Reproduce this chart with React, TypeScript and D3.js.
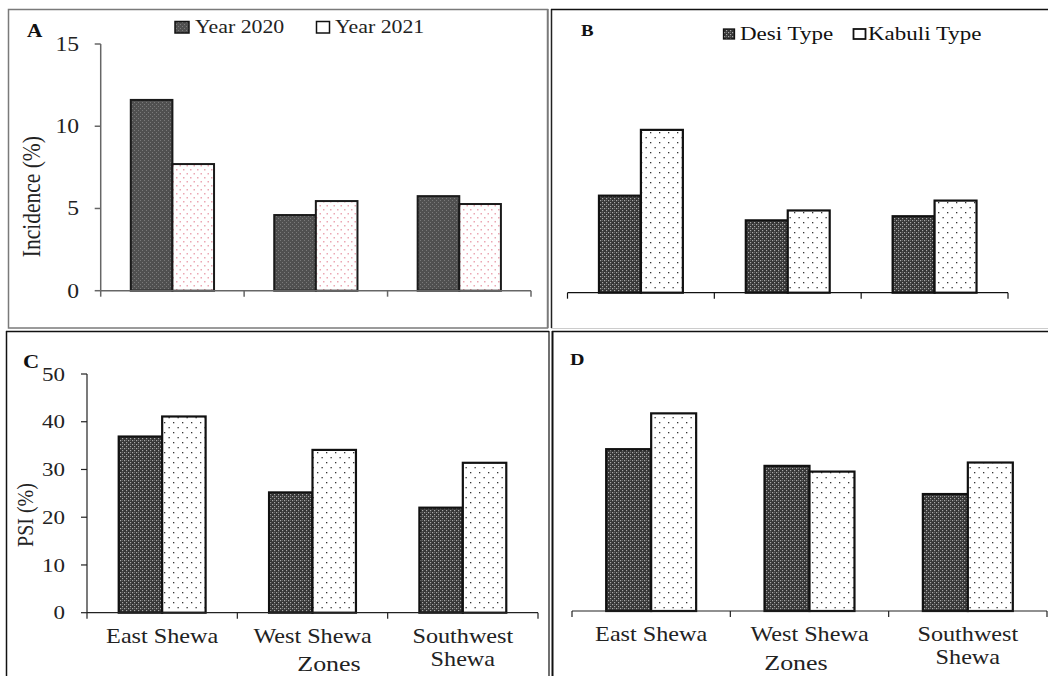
import React from "react";
import * as d3 from "d3";

const categories = ["East Shewa", "West Shewa", "Southwest Shewa"];
const categoryLines = [["East Shewa"], ["West Shewa"], ["Southwest", "Shewa"]];

const yearSeries = ["Year 2020", "Year 2021"];
const typeSeries = ["Desi Type", "Kabuli Type"];

// Panel A: incidence by year
const incidence2020 = [11.6, 4.6, 5.75];
const incidence2021 = [7.7, 5.45, 5.27];
// Panel B: incidence by type
const incidenceDesi = [5.9, 4.4, 4.65];
const incidenceKabuli = [9.9, 5.0, 5.6];
// Panel C: PSI by year
const psi2020 = [36.9, 25.2, 22.0];
const psi2021 = [41.1, 34.1, 31.4];
// Panel D: PSI by type
const psiDesi = [33.9, 30.4, 24.5];
const psiKabuli = [41.4, 29.2, 31.1];

const yTicksIncidence = [0, 5, 10, 15];
const yTicksPsi = [0, 10, 20, 30, 40, 50];

const FONT = "'Liberation Serif', 'Times New Roman', serif";
const SX = 1.18;

function Txt({ x, y, size, anchor = "start", weight = "normal", rotate = 0, fill = "#111", children }: any) {
  const tr = rotate
    ? `translate(${x},${y}) rotate(${rotate}) scale(1,${SX})`
    : `translate(${x},${y}) scale(${SX},1)`;
  return (
    <text transform={tr} fontSize={size} textAnchor={anchor} fontWeight={weight} fontFamily={FONT} fill={fill}>
      {children}
    </text>
  );
}

function Panel({
  series, values, xRange, yDomain, yRange, pad, fills, stroke, strokeW, axisColor, axisW,
  yTicks, tickLabelEnd, tickSize, catLabels, catY, lineH,
}: any) {
  const x0 = d3.scaleBand().domain(categories).range(xRange).padding(0);
  const x1 = d3.scaleBand().domain(series).range([0, x0.step()]).paddingInner(0).paddingOuter(pad);
  const y = d3.scaleLinear().domain(yDomain).range(yRange);
  const base = y(0);
  const edges = [...categories.map((c) => x0(c) as number), xRange[1]];
  return (
    <g>
      {categories.map((c, ci) =>
        series.map((s: string, si: number) => {
          const v = values[si][ci];
          return (
            <rect
              key={c + s}
              x={(x0(c) as number) + (x1(s) as number)}
              y={y(v)}
              width={x1.bandwidth()}
              height={base - y(v)}
              fill={fills[si]}
              stroke={stroke}
              strokeWidth={strokeW}
            />
          );
        })
      )}
      <line x1={xRange[0]} x2={xRange[1]} y1={base} y2={base} stroke={axisColor} strokeWidth={axisW} />
      {edges.map((e, i) => (
        <line key={"t" + i} x1={e} x2={e} y1={base} y2={base + 6} stroke={axisColor} strokeWidth={axisW} />
      ))}
      {yTicks && (
        <g>
          <line x1={xRange[0]} x2={xRange[0]} y1={base} y2={y(yDomain[1])} stroke={axisColor} strokeWidth={axisW} />
          {yTicks.map((t: number) => (
            <g key={"y" + t}>
              <line x1={xRange[0] - 6} x2={xRange[0]} y1={y(t)} y2={y(t)} stroke={axisColor} strokeWidth={axisW} />
              <Txt x={tickLabelEnd} y={y(t) + tickSize * 0.34} size={tickSize} anchor="end" fill="#222">
                {t}
              </Txt>
            </g>
          ))}
        </g>
      )}
      {catLabels &&
        categories.map((c, ci) => {
          const cx = (x0(c) as number) + x0.step() / 2;
          return categoryLines[ci].map((ln, li) => (
            <Txt key={c + li} x={cx} y={catY + li * lineH} size={20.5} anchor="middle" fill="#222">
              {ln}
            </Txt>
          ));
        })}
    </g>
  );
}

export default function App() {
  const yA = { domain: [0, 15], range: [290.7, 44] };
  const yB = { domain: [0, 15], range: [292.7, 46] };
  return (
    <svg
      width={1048}
      height={676}
      style={{ position: "fixed", left: 0, top: 0, background: "#fff" }}
      viewBox="0 0 1048 676"
    >
      <defs>
        <pattern id="darkSoft" width="4" height="4" patternUnits="userSpaceOnUse">
          <rect width="4" height="4" fill="#505050" />
          <rect x="0" y="0" width="1" height="1" fill="#7a7a7a" />
          <rect x="2" y="2" width="1" height="1" fill="#7a7a7a" />
        </pattern>
        <pattern id="darkHard" width="4" height="4" patternUnits="userSpaceOnUse">
          <rect width="4" height="4" fill="#353535" />
          <rect x="0" y="0" width="1.2" height="1.2" fill="#a8a8a8" />
          <rect x="2" y="2" width="1.2" height="1.2" fill="#a8a8a8" />
          <rect x="2" y="0" width="1" height="1" fill="#666" />
        </pattern>
        <pattern id="pinkDots" width="7" height="8" patternUnits="userSpaceOnUse">
          <rect width="7" height="8" fill="#fff" />
          <rect x="1" y="1" width="1.5" height="1.5" fill="#eba7b3" />
          <rect x="4.5" y="5" width="1.5" height="1.5" fill="#eba7b3" />
        </pattern>
        <pattern id="blackDots" width="9" height="10" patternUnits="userSpaceOnUse">
          <rect width="9" height="10" fill="#fff" />
          <rect x="2" y="2" width="1.3" height="1.3" fill="#333" />
          <rect x="6.5" y="7" width="1.3" height="1.3" fill="#333" />
        </pattern>
      </defs>

      {/* Panel borders */}
      <rect x={8.5} y={9.5} width={539} height={318.5} fill="none" stroke="#7a7a7a" strokeWidth={1.5} />
      <line x1={551.5} x2={551.5} y1={9} y2={328} stroke="#222" strokeWidth={1.5} />
      <line x1={548.5} x2={548.5} y1={9} y2={328} stroke="#999" strokeWidth={1} />
      <line x1={551} x2={1048} y1={9.5} y2={9.5} stroke="#111" strokeWidth={1.5} />
      <line x1={551} x2={1048} y1={328.5} y2={328.5} stroke="#ccc" strokeWidth={1} />
      <line x1={6.5} x2={6.5} y1={331} y2={676} stroke="#111" strokeWidth={1.5} />
      <line x1={6} x2={549} y1={331.5} y2={331.5} stroke="#111" strokeWidth={1.5} />
      <line x1={549} x2={549} y1={331} y2={676} stroke="#111" strokeWidth={1.2} />
      <line x1={552.5} x2={552.5} y1={331} y2={676} stroke="#111" strokeWidth={2} />
      <line x1={552} x2={1048} y1={331.5} y2={331.5} stroke="#111" strokeWidth={1.5} />

      {/* Panel A */}
      <Panel
        series={yearSeries}
        values={[incidence2020, incidence2021]}
        xRange={[100.7, 531]}
        yDomain={yA.domain}
        yRange={yA.range}
        pad={0.723}
        fills={["url(#darkSoft)", "url(#pinkDots)"]}
        stroke="#1a1a1a"
        strokeW={2}
        axisColor="#666"
        axisW={1.5}
        yTicks={yTicksIncidence}
        tickLabelEnd={79}
        tickSize={20}
      />
      <Txt x={27} y={37} size={18} weight="bold">A</Txt>
      <Txt x={40} y={196.7} size={21.5} rotate={-90} anchor="middle" fill="#222">Incidence (%)</Txt>
      <rect x={175} y={21.5} width={14} height={11.5} fill="url(#darkSoft)" stroke="#111" strokeWidth={1.5} />
      <Txt x={195} y={33} size={18.5} fill="#222">{yearSeries[0]}</Txt>
      <rect x={316.5} y={21.5} width={13} height={11.5} fill="#fff" stroke="#111" strokeWidth={1.5} />
      <Txt x={335} y={33} size={18.5} fill="#222">{yearSeries[1]}</Txt>

      {/* Panel B */}
      <Panel
        series={typeSeries}
        values={[incidenceDesi, incidenceKabuli]}
        xRange={[567.5, 1008]}
        yDomain={yB.domain}
        yRange={yB.range}
        pad={0.75}
        fills={["url(#darkHard)", "url(#blackDots)"]}
        stroke="#111"
        strokeW={2.2}
        axisColor="#111"
        axisW={1.2}
      />
      <Txt x={581} y={36} size={16} weight="bold">B</Txt>
      <rect x={723.5} y={29} width={11} height={10} fill="url(#darkHard)" stroke="#111" strokeWidth={1.3} />
      <Txt x={740} y={40} size={19.5}>{typeSeries[0]}</Txt>
      <rect x={853.5} y={29} width={12} height={10} fill="#fff" stroke="#111" strokeWidth={1.8} />
      <Txt x={868} y={40} size={19.5}>{typeSeries[1]}</Txt>

      {/* Panel C */}
      <Panel
        series={yearSeries}
        values={[psi2020, psi2021]}
        xRange={[87, 538]}
        yDomain={[0, 50]}
        yRange={[612.7, 374]}
        pad={0.73}
        fills={["url(#darkHard)", "url(#blackDots)"]}
        stroke="#111"
        strokeW={2.2}
        axisColor="#222"
        axisW={1.2}
        yTicks={yTicksPsi}
        tickLabelEnd={65}
        tickSize={19.5}
        catLabels
        catY={643}
        lineH={23}
      />
      <Txt x={23} y={368} size={19} weight="bold">C</Txt>
      <Txt x={33} y={515} size={20} rotate={-90} anchor="middle" fill="#222">PSI (%)</Txt>
      <Txt x={329} y={671} size={22} anchor="middle" fill="#222">Zones</Txt>

      {/* Panel D */}
      <Panel
        series={typeSeries}
        values={[psiDesi, psiKabuli]}
        xRange={[572, 1047]}
        yDomain={[0, 50]}
        yRange={[611, 372.3]}
        pad={0.76}
        fills={["url(#darkHard)", "url(#blackDots)"]}
        stroke="#111"
        strokeW={2.2}
        axisColor="#222"
        axisW={1.2}
        catLabels
        catY={641}
        lineH={23}
      />
      <Txt x={570} y={365} size={17} weight="bold">D</Txt>
      <Txt x={796} y={670} size={22} anchor="middle" fill="#222">Zones</Txt>
    </svg>
  );
}
